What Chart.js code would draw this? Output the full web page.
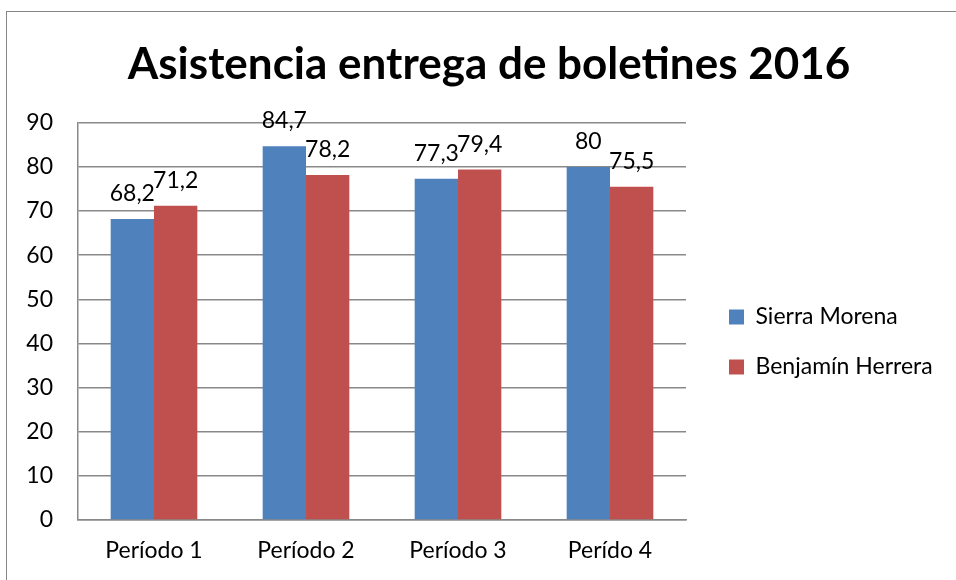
<!DOCTYPE html>
<html>
<head>
<meta charset="utf-8">
<script src="https://cdn.jsdelivr.net/npm/chart.js@4/dist/chart.umd.min.js"></script>
<style>
  html, body { margin: 0; padding: 0; background: #fff; }
  #marco { position: absolute; left: 6px; top: 11px; width: 1000px; height: 620px; border: 1.5px solid #868686; }
  #caja { position: absolute; left: 0; top: 0; width: 956px; height: 580px; }
</style>
</head>
<body>
<div id="marco"></div>
<div id="caja"><canvas id="grafica"></canvas></div>
<script>
// Datos
const periodos = ['Período 1', 'Período 2', 'Período 3', 'Perído 4'];
const sierraMorena = [68.2, 84.7, 77.3, 80];
const benjaminHerrera = [71.2, 78.2, 79.4, 75.5];
const ticksY = [0, 10, 20, 30, 40, 50, 60, 70, 80, 90];

const fuente = 'Lato, "Open Sans", sans-serif';
const gris = '#898989';

// Etiquetas de valor encima de cada barra (coma decimal)
const etiquetas = {
    id: 'etiquetas',
    afterDatasetsDraw(chart) {
        const ctx = chart.ctx;
        ctx.save();
        ctx.font = '23px ' + fuente;
        ctx.fillStyle = '#000';
        ctx.textAlign = 'center';
        ctx.textBaseline = 'alphabetic';
        chart.data.datasets.forEach((ds, i) => {
            chart.getDatasetMeta(i).data.forEach((bar, j) => {
                const txt = String(ds.data[j]).replace('.', ',');
                ctx.fillText(txt, bar.x, bar.y - 18);
            });
        });
        ctx.restore();
    }
};

// Ajusta la leyenda (más abajo y a la derecha) y centra el título en todo el ancho
const ajustarCajas = {
    id: 'ajustarCajas',
    afterLayout(chart) {
        const lg = chart.legend;
        lg.top += 59; lg.bottom += 59;
        lg.left = chart.chartArea.right + 16; lg.right = chart.width;
        const t = chart.titleBlock;
        t.left = 22; t.right = chart.width;
    }
};

const config = {
    type: 'bar',
    data: {
        labels: periodos,
        datasets: [{
            label: 'Sierra Morena',
            data: sierraMorena,
            backgroundColor: '#4F81BD',
        }, {
            label: 'Benjamín Herrera',
            data: benjaminHerrera,
            backgroundColor: '#C0504D',
        }]
    },
    options: {
        responsive: true,
        maintainAspectRatio: false,
        animation: false,
        layout: { padding: { left: 20, right: 48, bottom: 14 } },
        datasets: {
            bar: { categoryPercentage: 0.57, barPercentage: 1 }
        },
        scales: {
            x: {
                grid: { display: false, drawTicks: false },
                border: { color: gris, width: 1.5 },
                ticks: { color: '#000', font: { family: fuente, size: 23 }, padding: 17 },
                afterFit(scale) { scale.height = 46; }
            },
            y: {
                min: 0,
                max: 90,
                afterBuildTicks(scale) { scale.ticks = ticksY.map(v => ({ value: v })); },
                grid: { color: gris, lineWidth: 1.5, drawTicks: false },
                border: { color: gris, width: 1.5 },
                ticks: { color: '#000', font: { family: fuente, size: 23 }, padding: 25 },
                afterFit(scale) { scale.width = 58; }
            }
        },
        plugins: {
            title: {
                display: true,
                text: 'Asistencia entrega de boletines 2016',
                color: '#000',
                font: { family: fuente, size: 44, weight: 'bold' },
                padding: { top: 38, bottom: 32 }
            },
            legend: {
                position: 'right',
                labels: {
                    color: '#000',
                    font: { family: fuente, size: 23 },
                    boxWidth: 15,
                    boxHeight: 15,
                    padding: 27
                }
            },
            tooltip: { enabled: false }
        }
    },
    plugins: [etiquetas, ajustarCajas]
};

const grafica = new Chart(document.getElementById('grafica'), config);
</script>
</body>
</html>
